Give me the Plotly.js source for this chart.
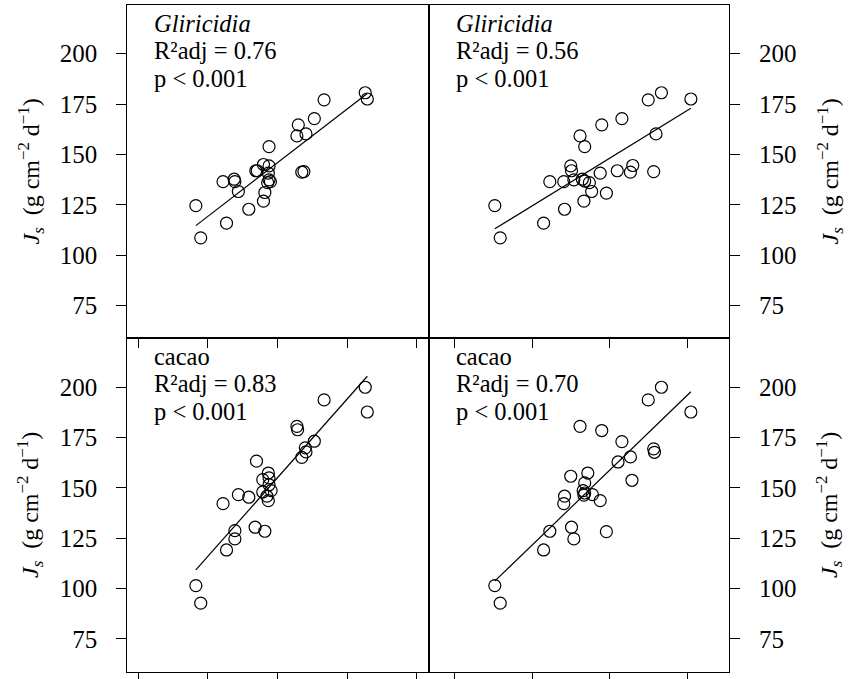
<!DOCTYPE html>
<html>
<head>
<meta charset="utf-8">
<script src="https://cdn.plot.ly/plotly-3.0.1.min.js"></script>
<style>html,body{margin:0;padding:0;background:#fff;}#chart{width:850px;height:679px;}</style>
</head>
<body>
<div id="chart"></div>
<script>
// ---------- data (x in axis tick units; x tick labels not shown in the source) ----------
const xTicksLeft = [1, 2, 3, 4, 5];
const xTicksRight = [1, 2, 3, 4];
const yTicks = [75, 100, 125, 150, 175, 200];

// Gliricidia, left-column predictor
const gliXLeft = [1.83, 1.90, 2.27, 2.22, 2.38, 2.39, 2.44, 2.59, 2.69, 2.71, 2.80, 2.82, 2.80, 2.88, 2.87, 2.88, 2.90, 2.86, 2.88, 3.30, 3.28, 3.41, 3.53, 3.67, 3.35, 3.38, 4.26, 4.29];
const gliJsLeft = [124.6, 108.6, 115.9, 136.5, 137.7, 136.5, 131.6, 122.8, 141.9, 141.9, 126.8, 131.1, 145.0, 144.3, 140.7, 137.4, 136.5, 136.0, 153.9, 164.7, 159.2, 160.2, 167.8, 177.1, 141.2, 141.5, 180.6, 177.5];

// Gliricidia, right-column predictor
const gliXRight = [1.52, 1.59, 2.15, 2.42, 2.23, 2.41, 2.50, 2.51, 2.54, 2.65, 2.67, 2.68, 2.74, 2.77, 2.62, 2.68, 2.88, 2.96, 2.90, 3.10, 3.16, 3.27, 3.30, 3.57, 3.60, 3.50, 3.67, 4.05];
const gliJsRight = [124.6, 108.6, 115.9, 122.8, 136.5, 136.5, 144.3, 141.9, 137.4, 137.7, 126.8, 136.8, 136.0, 131.6, 159.2, 153.9, 140.7, 130.8, 164.7, 141.9, 167.8, 141.2, 144.5, 141.5, 160.2, 177.1, 180.6, 177.5];

// cacao, left-column predictor
const cacXLeft = [1.83, 1.90, 2.27, 2.22, 2.39, 2.39, 2.44, 2.59, 2.68, 2.82, 2.70, 2.79, 2.79, 2.87, 2.88, 2.88, 2.91, 2.85, 2.87, 3.28, 3.29, 3.40, 3.41, 3.35, 3.53, 3.67, 4.26, 4.29];
const cacJsLeft = [101.5, 92.8, 119.2, 142.2, 128.8, 124.7, 146.7, 145.4, 130.5, 128.5, 163.3, 148.0, 154.1, 157.4, 155.0, 151.6, 148.7, 145.9, 143.7, 180.6, 178.9, 169.9, 167.9, 165.2, 173.2, 193.7, 200.0, 187.7];

// cacao, right-column predictor
const cacXRight = [1.52, 1.59, 2.15, 2.23, 2.42, 2.41, 2.50, 2.51, 2.54, 2.62, 2.68, 2.66, 2.68, 2.67, 2.72, 2.78, 2.88, 2.90, 2.96, 3.11, 3.16, 3.27, 3.29, 3.57, 3.58, 3.50, 3.67, 4.05];
const cacJsRight = [101.5, 92.8, 119.2, 128.5, 145.9, 142.2, 155.8, 130.5, 124.7, 180.6, 152.5, 148.7, 147.5, 146.4, 157.4, 146.7, 143.7, 178.5, 128.3, 162.9, 173.0, 165.4, 153.8, 169.4, 167.7, 193.7, 200.0, 187.7];

const panelSpecies = ['Gliricidia', 'Gliricidia', 'cacao', 'cacao'];
const panelR2 = ['0.76', '0.56', '0.83', '0.70'];
const panelP = ['p < 0.001', 'p < 0.001', 'p < 0.001', 'p < 0.001'];

// ---------- layout geometry (pixels) ----------
const W = 850, H = 679;
const L = 127.3, M = 429, R = 729, T = 4.7, C = 338.3, B = 671.7;
const FONT = 'Liberation Serif';

function fitLine(xs, ys) {
  const n = xs.length;
  const mx = xs.reduce((a, b) => a + b, 0) / n;
  const my = ys.reduce((a, b) => a + b, 0) / n;
  let sxy = 0, sxx = 0;
  for (let i = 0; i < n; i++) { sxy += (xs[i] - mx) * (ys[i] - my); sxx += (xs[i] - mx) ** 2; }
  const b = sxy / sxx, a = my - b * mx;
  const x0 = Math.min(...xs), x1 = Math.max(...xs);
  return { x: [x0, x1], y: [a + b * x0, a + b * x1] };
}

const panels = [
  { xs: gliXLeft, ys: gliJsLeft, xa: 'x', ya: 'y' },
  { xs: gliXRight, ys: gliJsRight, xa: 'x2', ya: 'y2' },
  { xs: cacXLeft, ys: cacJsLeft, xa: 'x3', ya: 'y3' },
  { xs: cacXRight, ys: cacJsRight, xa: 'x4', ya: 'y4' }
];

const traces = [];
panels.forEach((p, i) => {
  traces.push({
    type: 'scatter', mode: 'markers', x: p.xs, y: p.ys, xaxis: p.xa, yaxis: p.ya,
    marker: { symbol: 'circle-open', size: 12, color: '#000', line: { width: 1.2, color: '#000' } },
    showlegend: false, hoverinfo: 'x+y', name: panelSpecies[i]
  });
  const f = fitLine(p.xs, p.ys);
  traces.push({
    type: 'scatter', mode: 'lines', x: f.x, y: f.y, xaxis: p.xa, yaxis: p.ya,
    line: { color: '#000', width: 1.2 }, showlegend: false, hoverinfo: 'skip'
  });
});

const px2fx = v => v / W;
const py2fy = v => 1 - v / H;
const yRange = [58.76, 224.3];
const xRangeLeft = [0.8465, 5.175];
const xRangeRight = [0.671, 4.542];

function xAxis(domain, range, tickvals, anchor) {
  return {
    domain: domain, range: range, anchor: anchor, tickvals: tickvals, ticks: 'outside', ticklen: 9,
    tickwidth: 1, tickcolor: '#000', showticklabels: false, showgrid: false, zeroline: false,
    showline: true, mirror: true, linecolor: '#000', linewidth: 1, fixedrange: true
  };
}
function yAxis(domain, side, anchor) {
  return {
    domain: domain, range: yRange, anchor: anchor, side: side, tickvals: yTicks,
    ticks: 'outside', ticklen: 10, tickwidth: 1, tickcolor: '#000', ticklabelstandoff: 14,
    tickfont: { family: FONT, size: 25, color: '#000' }, showgrid: false, zeroline: false,
    showline: true, mirror: true, linecolor: '#000', linewidth: 1, fixedrange: true
  };
}

const xdL = [px2fx(L), px2fx(M)], xdR = [px2fx(M), px2fx(R)];
const ydT = [py2fy(C), py2fy(T)], ydB = [py2fy(B), py2fy(C)];

const annotations = [];
const textLeft = [L + 26, M + 26];
const baseTop = [31.3, 59.0, 86.7], baseBot = [364.3, 392.0, 419.7];
const ANN_SIZE = 24.5;
panels.forEach((p, i) => {
  const col = i % 2, row = Math.floor(i / 2);
  const bases = row === 0 ? baseTop : baseBot;
  const lines = [
    panelSpecies[i] === 'Gliricidia' ? '<i>Gliricidia</i>' : panelSpecies[i],
    'R²adj = ' + panelR2[i],
    panelP[i]
  ];
  lines.forEach((t, k) => {
    annotations.push({
      xref: 'paper', yref: 'paper', x: px2fx(textLeft[col]), y: py2fy(bases[k] - 0.3375 * ANN_SIZE),
      xanchor: 'left', yanchor: 'middle', showarrow: false, text: t,
      font: { family: FONT, size: ANN_SIZE, color: '#000' }, borderpad: 0
    });
  });
});

const yTitle = '<i>J<sub>s</sub></i>  (g cm<sup>−2</sup> d<sup>−1</sup>)';
[[30, (T + C) / 2], [829, (T + C) / 2], [30, (C + B) / 2], [829, (C + B) / 2]].forEach(([xx, yy]) => {
  annotations.push({
    xref: 'paper', yref: 'paper', x: px2fx(xx), y: py2fy(yy), xanchor: 'center', yanchor: 'middle',
    showarrow: false, textangle: -90, text: yTitle, font: { family: FONT, size: 24, color: '#000' }
  });
});

const layout = {
  width: W, height: H, margin: { l: 0, r: 0, t: 0, b: 0, pad: 0 },
  paper_bgcolor: '#fff', plot_bgcolor: '#fff', showlegend: false,
  font: { family: FONT, size: 24, color: '#000' },
  xaxis: xAxis(xdL, xRangeLeft, xTicksLeft, 'y'),
  yaxis: yAxis(ydT, 'left', 'x'),
  xaxis2: xAxis(xdR, xRangeRight, xTicksRight, 'y2'),
  yaxis2: yAxis(ydT, 'right', 'x2'),
  xaxis3: xAxis(xdL, xRangeLeft, xTicksLeft, 'y3'),
  yaxis3: yAxis(ydB, 'left', 'x3'),
  xaxis4: xAxis(xdR, xRangeRight, xTicksRight, 'y4'),
  yaxis4: yAxis(ydB, 'right', 'x4'),
  annotations: annotations
};

Plotly.newPlot('chart', traces, layout, { staticPlot: true, displayModeBar: false });
</script>
</body>
</html>
